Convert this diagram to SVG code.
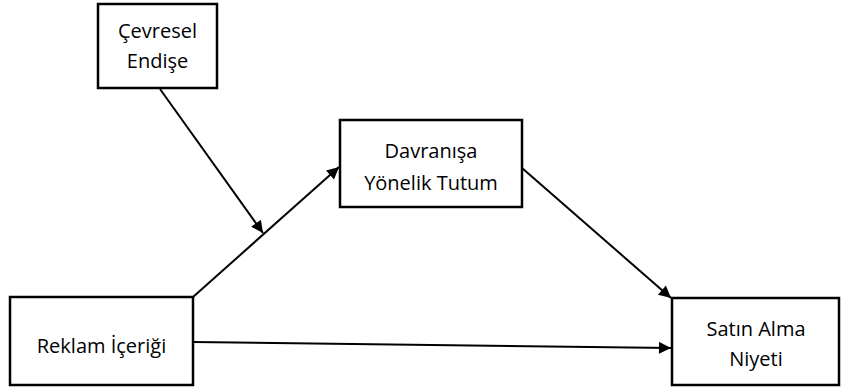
<svg xmlns="http://www.w3.org/2000/svg" width="842" height="387" viewBox="0 0 842 387">
<style>
.box{fill:#fff;stroke:#000;stroke-width:2.5}
.t{font-family:"Open Sans","Liberation Sans",sans-serif;font-size:20px;fill:#000;text-anchor:middle}
.c{stroke:#000;stroke-width:2;fill:none;marker-end:url(#ah)}
</style>
<defs>
<marker id="ah" viewBox="0 0 10 10" refX="10" refY="5" markerWidth="7" markerHeight="6" markerUnits="strokeWidth" orient="auto">
<path d="M0,0 L10,5 L0,10 z" fill="#000"/>
</marker>
</defs>
<g id="connectors">
<line class="c" x1="160" y1="89" x2="263" y2="233"/>
<line class="c" x1="193" y1="297" x2="339" y2="167"/>
<line class="c" x1="522" y1="168" x2="671" y2="298"/>
<line class="c" x1="193" y1="342" x2="671" y2="348"/>
</g>
<g id="cevresel">
<rect class="box" x="98" y="4" width="119" height="84"/>
<text class="t" x="157.5" y="38">Çevresel</text>
<text class="t" x="157.5" y="68">Endişe</text>
</g>
<g id="davranisa">
<rect class="box" x="340" y="120" width="182" height="87"/>
<text class="t" x="431" y="158">Davranışa</text>
<text class="t" x="431" y="190">Yönelik Tutum</text>
</g>
<g id="reklam">
<rect class="box" x="10" y="297" width="183" height="88"/>
<text class="t" x="101.5" y="353">Reklam İçeriği</text>
</g>
<g id="satin">
<rect class="box" x="672" y="298" width="167" height="87"/>
<text class="t" x="756" y="336">Satın Alma</text>
<text class="t" x="756" y="366">Niyeti</text>
</g>
</svg>
